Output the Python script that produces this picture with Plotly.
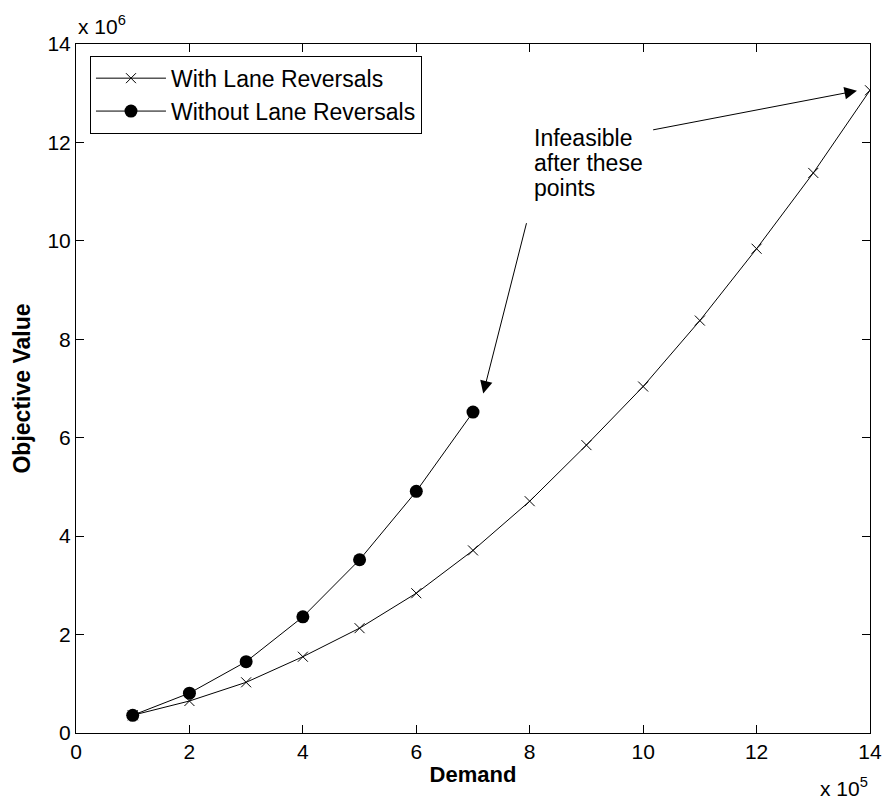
import plotly.graph_objects as go

# Demand in units of 1e5, objective value in units of 1e6
demand_with = [1, 2, 3, 4, 5, 6, 7, 8, 9, 10, 11, 12, 13, 14]
obj_with = [0.36, 0.65, 1.03, 1.55, 2.13, 2.84, 3.71, 4.71, 5.85, 7.04, 8.38, 9.84, 11.38, 13.06]
demand_without = [1, 2, 3, 4, 5, 6, 7]
obj_without = [0.36, 0.81, 1.45, 2.36, 3.52, 4.91, 6.52]

tick_vals = [0, 2, 4, 6, 8, 10, 12, 14]
tick_text = ["0", "2", "4", "6", "8", "10", "12", "14"]

FONT = "Liberation Sans, Arial, Helvetica, sans-serif"

fig = go.Figure()
fig.add_trace(go.Scatter(
    x=demand_with, y=obj_with, mode="lines+markers", name="With Lane Reversals",
    line=dict(color="black", width=1),
    marker=dict(symbol="x-thin", size=10, color="black", line=dict(color="black", width=1)),
))
fig.add_trace(go.Scatter(
    x=demand_without, y=obj_without, mode="lines+markers", name="Without Lane Reversals",
    line=dict(color="black", width=1),
    marker=dict(symbol="circle", size=13, color="black"),
))

axis_common = dict(
    range=[0, 14], tickvals=tick_vals, ticktext=tick_text,
    showgrid=False, zeroline=False, showline=True, linecolor="black", linewidth=1,
    mirror="ticks", ticks="inside", ticklen=8, tickcolor="black", tickwidth=1,
    tickfont=dict(family=FONT, size=21, color="black"),
    automargin=False,
)

fig.update_layout(
    width=884, height=800,
    margin=dict(l=76, r=14, t=44, b=67),
    paper_bgcolor="white", plot_bgcolor="white",
    font=dict(family=FONT, color="black"),
    xaxis=dict(**axis_common,
               title=dict(text="<b>Demand</b>", font=dict(family=FONT, size=22, color="black"), standoff=4)),
    yaxis=dict(**axis_common,
               title=dict(text="<b>Objective Value</b>", font=dict(family=FONT, size=23, color="black"), standoff=10)),
    legend=dict(
        x=0.0176, y=0.983, xanchor="left", yanchor="top",
        bgcolor="white", bordercolor="black", borderwidth=1,
        font=dict(family=FONT, size=23, color="black"),
        itemwidth=70, tracegroupgap=0,
    ),
    showlegend=True,
)

annotations = [
    # axis exponent labels
    dict(text="x 10<sup>6</sup>", xref="paper", yref="paper", x=0.0, y=1.027,
         xanchor="left", yanchor="middle", showarrow=False,
         font=dict(family=FONT, size=21, color="black")),
    dict(text="x 10<sup>5</sup>", xref="paper", yref="paper", x=1.0, y=-0.078,
         xanchor="right", yanchor="middle", showarrow=False,
         font=dict(family=FONT, size=21, color="black")),
    # text lines
    dict(text="Infeasible", xref="x", yref="y", x=8.04, y=12.09, xanchor="left", yanchor="middle",
         showarrow=False, font=dict(family=FONT, size=23, color="black")),
    dict(text="after these", xref="x", yref="y", x=8.04, y=11.58, xanchor="left", yanchor="middle",
         showarrow=False, font=dict(family=FONT, size=23, color="black")),
    dict(text="points", xref="x", yref="y", x=8.04, y=11.07, xanchor="left", yanchor="middle",
         showarrow=False, font=dict(family=FONT, size=23, color="black")),
    # arrows
    dict(text="", xref="x", yref="y", axref="x", ayref="y", x=13.77, y=13.05, ax=10.15, ay=12.25,
         showarrow=True, arrowhead=2, arrowsize=2.5, arrowwidth=1, arrowcolor="black"),
    dict(text="", xref="x", yref="y", axref="x", ayref="y", x=7.18, y=6.90, ax=7.95, ay=10.39,
         showarrow=True, arrowhead=2, arrowsize=2.5, arrowwidth=1, arrowcolor="black"),
]
fig.update_layout(annotations=annotations)

fig.write_html("out.html")
